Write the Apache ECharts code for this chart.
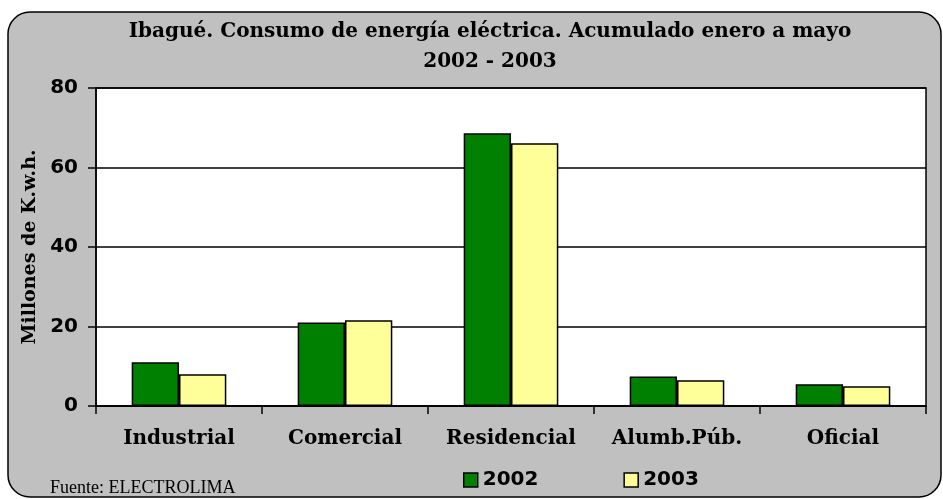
<!DOCTYPE html>
<html>
<head>
<meta charset="utf-8">
<script src="https://cdn.jsdelivr.net/npm/echarts@6/dist/echarts.min.js"></script>
<style>
  html, body { margin: 0; padding: 0; background: #ffffff; }
  #chart { width: 943px; height: 499px; }
</style>
</head>
<body>
<div id="chart"></div>
<script>
// Consumo de energía eléctrica en Ibagué, acumulado enero-mayo (millones de kWh)
const categories = ['Industrial', 'Comercial', 'Residencial', 'Alumb.Púb.', 'Oficial'];
const values2002 = [11.0, 21.0, 68.6, 7.4, 5.5];
const values2003 = [8.0, 21.6, 66.1, 6.5, 5.0];
const yTicks = [0, 20, 40, 60, 80];

const chart = echarts.init(document.getElementById('chart'), null, { renderer: 'canvas' });

const serifBold = { fontFamily: 'DejaVu Serif', fontWeight: 'bold', color: '#000' };
const sansBold = { fontFamily: 'DejaVu Sans', fontWeight: 'bold', color: '#000' };

chart.setOption({
  backgroundColor: '#ffffff',
  animation: false,
  graphic: [
    {
      type: 'rect',
      z: -10,
      shape: { x: 8, y: 12, width: 933, height: 485, r: 22 },
      style: { fill: '#c0c0c0', stroke: '#000', lineWidth: 1.5 }
    },
    {
      type: 'text',
      left: 50, top: 479,
      style: { text: 'Fuente: ELECTROLIMA', font: '18px "Liberation Serif"', fill: '#000' }
    }
  ],
  title: {
    text: 'Ibagué. Consumo de energía eléctrica. Acumulado enero a mayo\n2002 - 2003',
    left: 485,
    textAlign: 'center',
    top: 12,
    textStyle: Object.assign({ fontSize: 20, lineHeight: 30 }, serifBold)
  },
  legend: {
    top: 465,
    left: 458,
    itemWidth: 14,
    itemHeight: 14,
    itemGap: 85,
    icon: 'rect',
    textStyle: Object.assign({ fontSize: 20 }, sansBold),
    data: [
      { name: '2002', itemStyle: { borderColor: '#000', borderWidth: 1.5 } },
      { name: '2003', itemStyle: { borderColor: '#000', borderWidth: 1.5 } }
    ]
  },
  grid: { left: 96, top: 88, width: 830, height: 318, containLabel: false,
          show: true, backgroundColor: '#ffffff', borderColor: '#000', borderWidth: 1.5 },
  xAxis: {
    type: 'category',
    data: categories,
    axisLine: { lineStyle: { color: '#000', width: 1.5 } },
    axisTick: { show: true, length: 8, interval: 0, lineStyle: { color: '#000', width: 1.5 } },
    axisLabel: Object.assign({ fontSize: 20, margin: 23, interval: 0 }, serifBold)
  },
  yAxis: {
    type: 'value',
    min: yTicks[0],
    max: yTicks[yTicks.length - 1],
    interval: 20,
    name: 'Millones de K.w.h.',
    nameLocation: 'middle',
    nameGap: 56,
    nameTextStyle: Object.assign({ fontSize: 19 }, serifBold),
    axisLine: { show: true, lineStyle: { color: '#000', width: 1.5 } },
    axisTick: { show: true, length: 8, lineStyle: { color: '#000', width: 1.5 } },
    axisLabel: Object.assign({ fontSize: 20, margin: 18 }, sansBold),
    splitLine: { lineStyle: { color: '#000', width: 1.5 } }
  },
  series: [
    {
      name: '2002',
      type: 'bar',
      data: values2002,
      barGap: '0%',
      barCategoryGap: '43%',
      itemStyle: { color: '#008000', borderColor: '#000', borderWidth: 1.5 }
    },
    {
      name: '2003',
      type: 'bar',
      data: values2003,
      itemStyle: { color: '#ffff99', borderColor: '#000', borderWidth: 1.5 }
    }
  ]
});
</script>
</body>
</html>
